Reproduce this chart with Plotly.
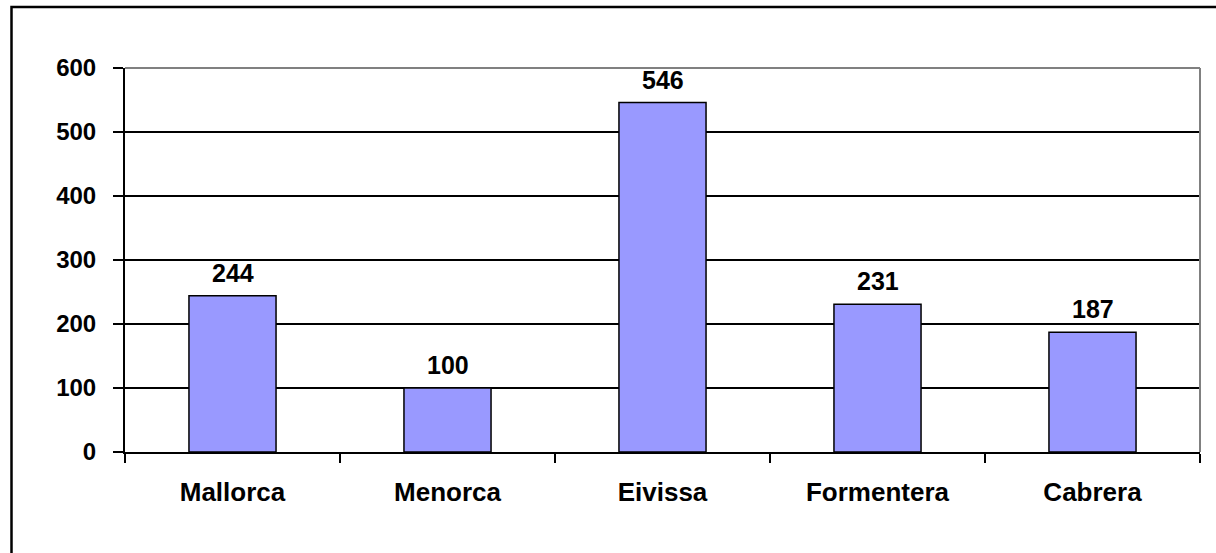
import plotly.graph_objects as go

islands = ["Mallorca", "Menorca", "Eivissa", "Formentera", "Cabrera"]
values = [244, 100, 546, 231, 187]
y_ticks = [0, 100, 200, 300, 400, 500, 600]

FONT = "Liberation Sans, Arial, sans-serif"

fig = go.Figure()
fig.add_trace(go.Bar(
    x=islands, y=values,
    marker=dict(color="#9999FF", line=dict(color="black", width=1.5)),
    width=0.405,
    cliponaxis=False,
    showlegend=False,
    hoverinfo="skip",
))

for name, v in zip(islands, values):
    fig.add_annotation(x=name, y=v, text=f"<b>{v}</b>", showarrow=False,
                       yanchor="bottom", yshift=7,
                       font=dict(family=FONT, size=25, color="black"))

# outer chart border (left and top visible)
fig.add_shape(type="rect", xref="paper", yref="paper",
              x0=(11.5 - 125) / 1075, x1=1.05, y0=-0.5, y1=(452 - 7) / 384,
              line=dict(color="black", width=2.5), layer="below")
# plot area border top/right in gray
fig.add_shape(type="line", xref="paper", yref="paper", x0=0, x1=1, y0=1, y1=1,
              line=dict(color="#808080", width=2))
fig.add_shape(type="line", xref="paper", yref="paper", x0=1, x1=1, y0=0, y1=1,
              line=dict(color="#808080", width=2))

fig.update_layout(
    width=1216, height=553,
    margin=dict(l=125, r=16, t=68, b=101),
    paper_bgcolor="white", plot_bgcolor="white",
    font=dict(family=FONT, color="black"),
    bargap=0.595,
)
fig.update_yaxes(
    range=[0, 600], tickvals=y_ticks, ticktext=[f"<b>{t}</b>" for t in y_ticks],
    tickfont=dict(size=24, family=FONT),
    showgrid=True, gridcolor="black", gridwidth=1.5,
    showline=True, linecolor="black", linewidth=2,
    ticks="outside", ticklen=10, tickcolor="black", tickwidth=2,
    ticklabelstandoff=12, zeroline=False,
)
fig.update_xaxes(
    tickvals=islands, ticktext=[f"<b>{c}</b>" for c in islands],
    tickfont=dict(size=26, family=FONT),
    showline=True, linecolor="black", linewidth=2,
    ticks="outside", ticklen=9, tickcolor="black", tickwidth=2,
    tickson="boundaries", ticklabelstandoff=16,
    range=[-0.5, 4.5],
)

fig.write_html("out.html",
               config={"displayModeBar": False},
               post_script="document.body.style.margin='0';document.body.style.overflow='hidden';")
